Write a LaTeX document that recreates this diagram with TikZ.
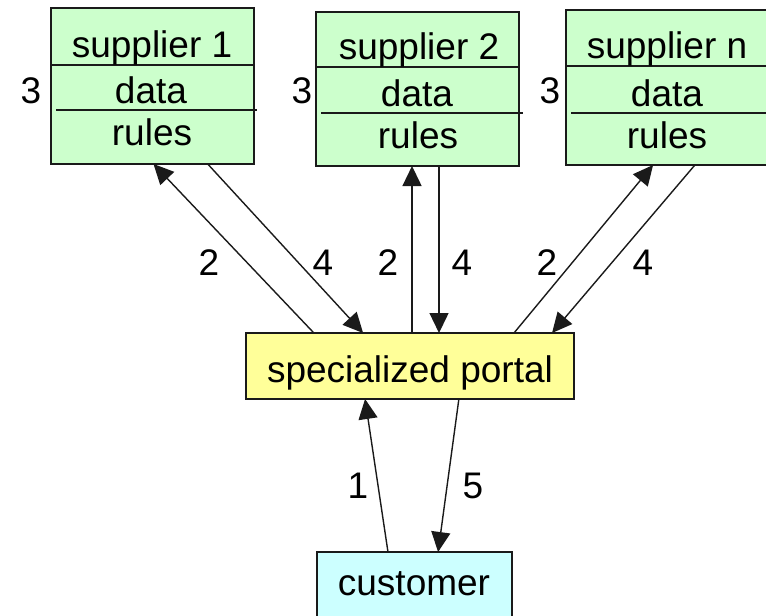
\documentclass[tikz,border=0pt]{standalone}
\usepackage{fontspec}
\setmainfont{Liberation Sans}
\usetikzlibrary{arrows.meta,calc}
\definecolor{supfill}{HTML}{CCFFCC}
\definecolor{portfill}{HTML}{FFFF99}
\definecolor{custfill}{HTML}{CCFFFF}
\definecolor{edge}{HTML}{1A1A1A}
\begin{document}
\begin{tikzpicture}[x=1pt,y=-1pt,
  box/.style={draw=edge, line width=1.6pt, inner sep=0pt, outer sep=0pt, anchor=north west},
  supbox/.style={box, fill=supfill, minimum width=203pt},
  txt/.style={font=\fontsize{37}{44}\selectfont, anchor=base, inner sep=0pt},
  flow/.style={line width=1.4pt, draw=edge, -{Triangle[length=20pt,width=19pt]}},
  divider/.style={line width=1.6pt, draw=edge},
]
\useasboundingbox (0,0) rectangle (766,616);
\clip (0,0) rectangle (766,616);

% supplier boxes
\node[supbox, minimum height=156pt] (s1) at (51,8) {};
\node[supbox, minimum height=154pt] (s2) at (316,12) {};
\node[supbox, minimum height=155pt] (sn) at (566,10) {};

% compartments inside each supplier
\draw[divider] (s1.west |- 0,65) -- (s1.east |- 0,65);
\draw[divider] (56,110) -- (257,110);
\draw[divider] (s2.west |- 0,67) -- (s2.east |- 0,67);
\draw[divider] (321,113) -- (523,113);
\draw[divider] (sn.west |- 0,66) -- (sn.east |- 0,66);
\draw[divider] (571,113) -- (773,113);

\node[txt] (s1t) at (152,57)  {supplier 1};
\node[txt] (s1d) at (151,103) {data};
\node[txt] (s1r) at (152,145) {rules};
\node[txt] (s2t) at (419,59)  {supplier 2};
\node[txt] (s2d) at (417,106) {data};
\node[txt] (s2r) at (418,148) {rules};
\node[txt] (snt) at (667,58)  {supplier n};
\node[txt] (snd) at (667,106) {data};
\node[txt] (snr) at (667,148) {rules};

\node[txt] (s1n) at (31,103)  {3};
\node[txt] (s2n) at (302,103) {3};
\node[txt] (snn) at (550,103) {3};

% portal and customer
\node[box, fill=portfill, minimum width=328pt, minimum height=66pt] (portal) at (246,333) {};
\node[txt] (portalt) at (410,382) {specialized portal};
\node[box, fill=custfill, minimum width=195pt, minimum height=90pt] (cust) at (317,552) {};
\node[txt] (custt) at (414,595) {customer};

% attachment points on the box edges
\coordinate (s1in)  at ($(s1.south west)!0.505!(s1.south east)$);
\coordinate (s1out) at ($(s1.south west)!0.772!(s1.south east)$);
\coordinate (s2in)  at ($(s2.south west)!0.473!(s2.south east)$);
\coordinate (s2out) at ($(s2.south west)!0.606!(s2.south east)$);
\coordinate (snin)  at ($(sn.south west)!0.429!(sn.south east)$);
\coordinate (snout) at ($(sn.south west)!0.635!(sn.south east)$);
\coordinate (p1a) at ($(portal.north west)!0.207!(portal.north east)$);
\coordinate (p1b) at ($(portal.north west)!0.357!(portal.north east)$);
\coordinate (pna) at ($(portal.north west)!0.817!(portal.north east)$);
\coordinate (pnb) at ($(portal.north west)!0.933!(portal.north east)$);
\coordinate (pcin)  at ($(portal.south west)!0.363!(portal.south east)$);
\coordinate (pcout) at ($(portal.south west)!0.649!(portal.south east)$);
\coordinate (cout) at ($(cust.north west)!0.364!(cust.north east)$);
\coordinate (cin)  at ($(cust.north west)!0.621!(cust.north east)$);

% message flows
\draw[flow] (p1a) -- (s1in);
\draw[flow] (s1out) -- (p1b);
\draw[flow] (s2in |- portal.north) -- (s2in);
\draw[flow] (s2out) -- (s2out |- portal.north);
\draw[flow] (pna) -- (snin);
\draw[flow] (snout) -- (pnb);
\draw[flow] (cout) -- (pcin);
\draw[flow] (pcout) -- (cin);

% step numbers
\node[txt] (l2a) at (209,275) {2};
\node[txt] (l4a) at (323,275) {4};
\node[txt] (l2b) at (388,275) {2};
\node[txt] (l4b) at (462,275) {4};
\node[txt] (l2c) at (547,275) {2};
\node[txt] (l4c) at (643,275) {4};
\node[txt] (l1)  at (358,498) {1};
\node[txt] (l5)  at (473,498) {5};
\end{tikzpicture}
\end{document}
